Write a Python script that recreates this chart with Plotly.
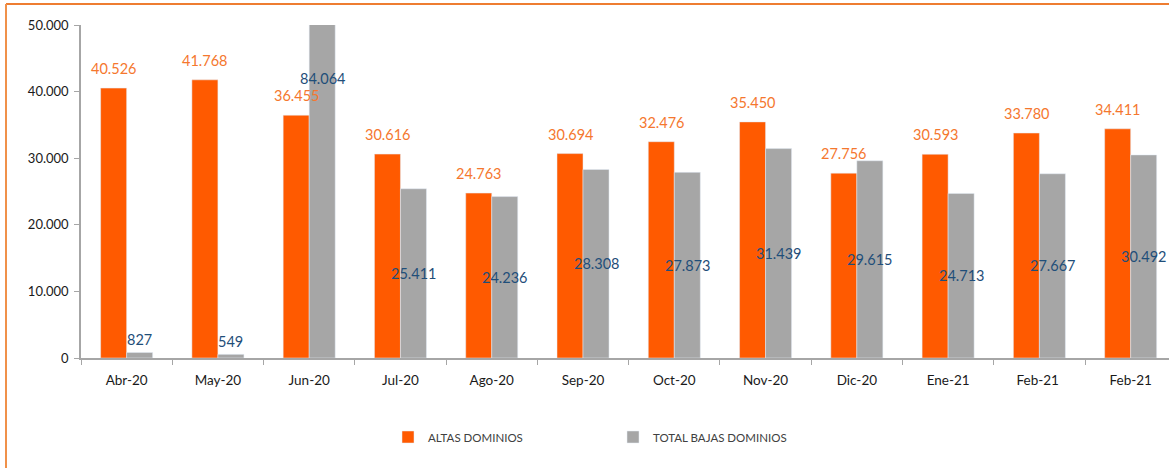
import plotly.graph_objects as go

categories = ["Abr-20", "May-20", "Jun-20", "Jul-20", "Ago-20", "Sep-20",
              "Oct-20", "Nov-20", "Dic-20", "Ene-21", "Feb-21 ", "Feb-21"]
altas = [40526, 41768, 36455, 30616, 24763, 30694, 32476, 35450, 27756, 30593, 33780, 34411]
bajas = [827, 549, 84064, 25411, 24236, 28308, 27873, 31439, 29615, 24713, 27667, 30492]

ORANGE = "#FF5A00"
ORANGE_TXT = "#F5772E"
GRAY = "#A6A6A6"
BLUE_TXT = "#1F4E79"
FONT = "Lato"

def fmt(v):
    return f"{v:,}".replace(",", ".")

fig = go.Figure()
fig.add_trace(go.Bar(x=categories, y=altas, name="ALTAS DOMINIOS",
                     marker=dict(color=ORANGE)))
fig.add_trace(go.Bar(x=categories, y=bajas, name="TOTAL BAJAS DOMINIOS",
                     marker=dict(color=GRAY)))

ann = []
for c, a, b in zip(categories, altas, bajas):
    ann.append(dict(x=c, y=a, text=fmt(a), showarrow=False, xref="x", yref="y",
                    xshift=-13, yanchor="bottom", yshift=9,
                    font=dict(family=FONT, size=14.5, color=ORANGE_TXT)))
    if b < 3000:
        ann.append(dict(x=c, y=b, text=fmt(b), showarrow=False, xref="x", yref="y",
                        xshift=13, yanchor="bottom", yshift=2,
                        font=dict(family=FONT, size=14.5, color=BLUE_TXT)))
    else:
        ann.append(dict(x=c, y=b / 2, text=fmt(b), showarrow=False, xref="x", yref="y",
                        xshift=13, yanchor="middle",
                        font=dict(family=FONT, size=14.5, color=BLUE_TXT)))

W, H = 1169, 468
L, T, B = 81, 25, 110
pw = W - L
ph = H - T - B

def px_x(px):
    return (px - L) / pw

def px_y(py):
    return (H - B - py) / ph

shapes = [
    dict(type="line", xref="paper", yref="paper", x0=px_x(6), x1=px_x(1175),
         y0=px_y(4), y1=px_y(4), line=dict(color="#EE7D31", width=2)),
    dict(type="line", xref="paper", yref="paper", x0=px_x(6), x1=px_x(6),
         y0=px_y(4), y1=px_y(475), line=dict(color="#F0914A", width=2)),
]

fig.update_layout(
    width=W, height=H,
    margin=dict(l=L, r=0, t=T, b=B, autoexpand=False),
    paper_bgcolor="white", plot_bgcolor="white",
    barmode="group", bargap=0.43, bargroupgap=0,
    separators=",.",
    font=dict(family=FONT, color="#262626"),
    annotations=ann,
    shapes=shapes,
    showlegend=True,
    legend=dict(orientation="h", xref="paper", yref="paper",
                x=px_x(388), xanchor="left", y=px_y(437), yanchor="middle",
                entrywidth=180, itemwidth=30,
                font=dict(family=FONT, size=11.5, color="#404040"),
                bgcolor="rgba(0,0,0,0)"),
    xaxis=dict(type="category", range=[-0.5, 11.42], showline=True,
               linecolor="#A6A6A6", linewidth=1.5, ticks="outside",
               tickson="boundaries", ticklen=5, tickcolor="#A6A6A6",
               ticklabelstandoff=9,
               showgrid=False, tickfont=dict(family=FONT, size=13.5, color="#1a1a1a")),
    yaxis=dict(range=[0, 50000], dtick=10000, tickformat=",d", showline=True,
               linecolor="#A6A6A6", linewidth=1.5, ticks="outside", ticklen=5,
               tickcolor="#A6A6A6", showgrid=False, zeroline=False,
               ticklabelstandoff=3,
               tickfont=dict(family=FONT, size=13, color="#1a1a1a")),
)

fig.write_html("out.html", config={"displayModeBar": False},
               post_script="document.body.style.margin='0';document.body.style.overflow='hidden';")
